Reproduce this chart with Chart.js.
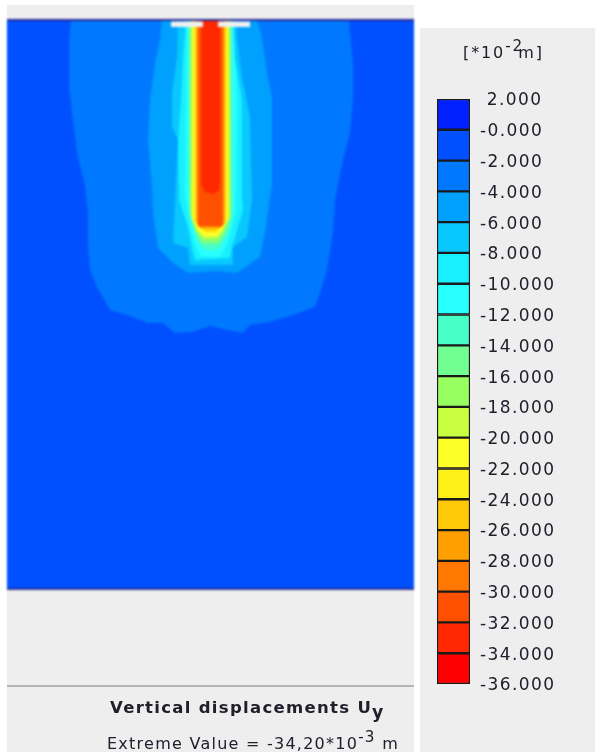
<!DOCTYPE html>
<html>
<head>
<meta charset="utf-8">
<title>Vertical displacements Uy</title>
<script src="https://cdn.jsdelivr.net/npm/chart.js@4/dist/chart.umd.min.js"></script>
<style>
    html, body { margin: 0; padding: 0; background: #fff; overflow: hidden; }
    #page { position: relative; width: 595px; height: 752px; overflow: hidden; font-family: "DejaVu Sans", sans-serif; color: #20202c; }
    .panel { position: absolute; background: #eeeeee; }
    canvas { position: absolute; left: 0; top: 0; }
    #plotChart { filter: blur(0.8px); }
    .txt { position: absolute; white-space: nowrap; filter: blur(0.35px); }
    .txt sup { font-size: 0.95em; line-height: 0; position: relative; top: -1px; vertical-align: super; }
    .txt sub { font-size: 1.05em; line-height: 0; position: relative; top: 1px; vertical-align: sub; }
</style>
</head>
<body>
<div id="page">
    <div class="panel" style="left:7px;top:5px;width:407px;height:747px"></div>
    <div class="panel" style="left:420px;top:28px;width:175px;height:724px"></div>
    <div class="panel" style="left:7px;top:685px;width:407px;height:2px;background:#b4b4b4"></div>
    <canvas id="plotChart" width="595" height="752"></canvas>
    <canvas id="legendChart" width="175" height="724" style="left:420px;top:28px"></canvas>
    <div class="txt" style="left:463px;top:43px;font-size:16px;letter-spacing:1.9px">[*10<sup style="margin-right:-6px">-2</sup>m]</div>
    <div class="txt" style="left:110px;top:698px;font-size:16.5px;font-weight:bold;letter-spacing:1.3px">Vertical displacements U<sub>y</sub></div>
    <div class="txt" style="left:107px;top:734px;font-size:16px;letter-spacing:1.25px">Extreme Value = -34,20*10<sup>-3</sup> m</div>
</div>

<script>
// model extent: x = distance from pile axis, y = depth below surface
var modelLeft = -203, modelRight = 204, modelBottom = -569, modelTop = 0;

// contour outlines, from outermost band to innermost
var soilBase = [[-203, 0], [204, 0], [204, -569], [-203, -569]];
var band2to4 = [[-139, 0], [-141, -20], [-141, -67], [-138, -93], [-133, -133], [-125, -167], [-122, -193], [-122, -227], [-120, -250], [-113, -267], [-100, -290], [-83, -295], [-62, -303], [-47, -303], [-35, -313], [-18, -312], [0, -306], [17, -310], [33, -313], [40, -305], [60, -302], [83, -295], [105, -287], [110, -273], [117, -250], [123, -213], [125, -180], [133, -140], [140, -113], [143, -80], [143, -43], [140, -13], [139, 0]];
var band4to6 = [[-48, 0], [-50, -20], [-55, -43], [-60, -80], [-62, -120], [-58, -167], [-57, -193], [-52, -228], [-37, -243], [-22, -253], [7, -251], [27, -253], [50, -237], [55, -213], [62, -163], [62, -77], [57, -53], [52, -17], [47, 0]];
var band6to8 = [[-32, 0], [-33, -37], [-38, -73], [-38, -107], [-32, -120], [-35, -180], [-37, -223], [-22, -228], [-20, -245], [23, -245], [23, -227], [37, -217], [42, -180], [40, -97], [32, -57], [27, -17], [26, 0]];
var band8to10 = [[-24, 0], [-27, -37], [-29, -80], [-32, -120], [-31, -180], [-22, -207], [-18, -228], [-15, -240], [20, -238], [22, -227], [33, -190], [32, -177], [32, -80], [25, -37], [23, 0]];
var band10to12 = [[-23, 0], [-24, -80], [-25, -170], [-20, -205], [-16, -222], [-10, -236], [10, -237], [18, -222], [26, -190], [27, -80], [23, 0]];
var band12to14 = [[-21.5, 0], [-21.5, -100], [-21.5, -185], [-18, -205], [-12, -222], [-5, -230], [8, -230], [15, -220], [22, -205], [23, -185], [23, -100], [21.5, 0]];
var band14to16 = [[-20.5, 0], [-20.5, -190], [-15, -210], [-8, -224], [8, -224], [15, -214], [21.5, -195], [20.5, 0]];
var band16to18 = [[-19.5, 0], [-19.5, -195], [-14, -212], [-7, -221], [8, -221], [14, -212], [20.5, -195], [20, 0]];
var band18to20 = [[-18.5, 0], [-18.5, -197], [-13, -211], [-6, -218], [7, -218], [13, -211], [19.5, -197], [19.5, 0]];
var band20to22 = [[-17.5, 0], [-17.5, -199], [-12, -210], [-6, -216], [7, -216], [12, -210], [18.5, -199], [18.5, 0]];
var band22to24 = [[-16, 0], [-16, -200], [-11, -208], [-5, -213], [6, -213], [11, -208], [17, -200], [17, 0]];
var band24to26 = [[-14.5, 0], [-14.5, -201], [-10, -208], [-5, -211], [6, -211], [11, -207], [15.5, -201], [15.5, 0]];
var band26to28 = [[-13.5, 0], [-13.5, -203], [-10, -208], [10, -208], [14.5, -203], [14.5, 0]];
var band28to30 = [[-12.5, 0], [-12.5, -205], [-10, -207], [10, -207], [13.5, -205], [13.5, 0]];
var band30to32 = [[-11.5, 0], [-11.5, -206], [12.5, -206], [12.5, 0]];
var band32to34 = [[-8.5, 0], [-8.5, -165], [-5, -172], [4, -174], [9, -170], [10, -160], [10, 0]];

var plateLeft = [[-39, -1.5], [-7, -1.5], [-7, -7], [-39, -7]];
var plateRight = [[8, -1.5], [40, -1.5], [40, -7], [8, -7]];
var surfaceLine = [[-203, 0], [204, 0]];
var baseLine = [[-203, -569], [204, -569]];

// legend
var legendTicks = [2, 0, -2, -4, -6, -8, -10, -12, -14, -16, -18, -20, -22, -24, -26, -28, -30, -32, -34, -36];
var legendLabels = [" 2.000", "-0.000", "-2.000", "-4.000", "-6.000", "-8.000", "-10.000", "-12.000", "-14.000", "-16.000", "-18.000", "-20.000", "-22.000", "-24.000", "-26.000", "-28.000", "-30.000", "-32.000", "-34.000", "-36.000"];
var legendColors = ["#0020ff", "#0050ff", "#0078ff", "#00a0ff", "#08c8ff", "#18f0ff", "#28ffff", "#48ffc8", "#70ff90", "#98ff60", "#c8ff40", "#ffff28", "#fff018", "#ffc808", "#ffa000", "#ff7800", "#ff5000", "#ff2800", "#ff0000"];

function toPoints(list) {
    return list.map(function (p) { return { x: p[0], y: p[1] }; });
}

var plotLayers = [
    [soilBase, "#0050ff"], [band2to4, "#0078ff"], [band4to6, "#00a0ff"], [band6to8, "#08c8ff"],
    [band8to10, "#18f0ff"], [band10to12, "#28ffff"], [band12to14, "#48ffc8"], [band14to16, "#70ff90"],
    [band16to18, "#98ff60"], [band18to20, "#c8ff40"], [band20to22, "#ffff28"], [band22to24, "#fff018"],
    [band24to26, "#ffc808"], [band26to28, "#ffa000"], [band28to30, "#ff7800"], [band30to32, "#ff5000"],
    [band32to34, "#ff2800"], [plateLeft, "#f0f0f0"], [plateRight, "#f0f0f0"]
];

var plotSets = plotLayers.map(function (layer, i) {
    return {
        data: toPoints(layer[0]),
        backgroundColor: layer[1],
        borderWidth: 0,
        pointRadius: 0,
        showLine: true,
        fill: "shape",
        order: 100 - i
    };
});
plotSets.push({ data: toPoints(surfaceLine), borderColor: "#2a2a96", borderWidth: 2, pointRadius: 0, showLine: true, fill: false, clip: 4, order: 1 });
plotSets.push({ data: toPoints(baseLine), borderColor: "#10107a", borderWidth: 1.5, pointRadius: 0, showLine: true, fill: false, clip: 4, order: 1 });

new Chart(document.getElementById("plotChart"), {
    type: "scatter",
    data: { datasets: plotSets },
    options: {
        responsive: false,
        animation: false,
        devicePixelRatio: 1,
        layout: { padding: { left: 7, right: 181, top: 20, bottom: 163 } },
        plugins: { legend: { display: false }, tooltip: { enabled: false } },
        scales: {
            x: { type: "linear", display: false, min: modelLeft, max: modelRight },
            y: { type: "linear", display: false, min: modelBottom, max: modelTop }
        }
    }
});

// one floating bar per colour band
var legendSets = legendColors.map(function (color, i) {
    return {
        data: [[legendTicks[i + 1], legendTicks[i]]],
        backgroundColor: color,
        borderColor: "#1a1a1a",
        borderWidth: 1.5,
        borderSkipped: false,
        grouped: false,
        barPercentage: 1,
        categoryPercentage: 1
    };
});

new Chart(document.getElementById("legendChart"), {
    type: "bar",
    data: { labels: [""], datasets: legendSets },
    options: {
        responsive: false,
        animation: false,
        devicePixelRatio: 1,
        layout: { padding: { left: 17, right: 0, top: 71, bottom: 68 } },
        plugins: { legend: { display: false }, tooltip: { enabled: false } },
        scales: {
            x: { display: false },
            y: {
                position: "right",
                min: -36,
                max: 2,
                grid: { display: false, drawTicks: false },
                border: { display: false },
                afterFit: function (axis) { axis.width = 125; },
                ticks: {
                    stepSize: 2,
                    autoSkip: false,
                    padding: 10,
                    labelOffset: 2,
                    color: "#20202c",
                    font: { family: "DejaVu Sans", size: 17 },
                    callback: function (value) { return legendLabels[legendTicks.indexOf(value)]; }
                }
            }
        }
    },
    plugins: [{
        id: "wideTicks",
        beforeDraw: function (chart) { chart.ctx.letterSpacing = "1.4px"; }
    }]
});
</script>
</body>
</html>
